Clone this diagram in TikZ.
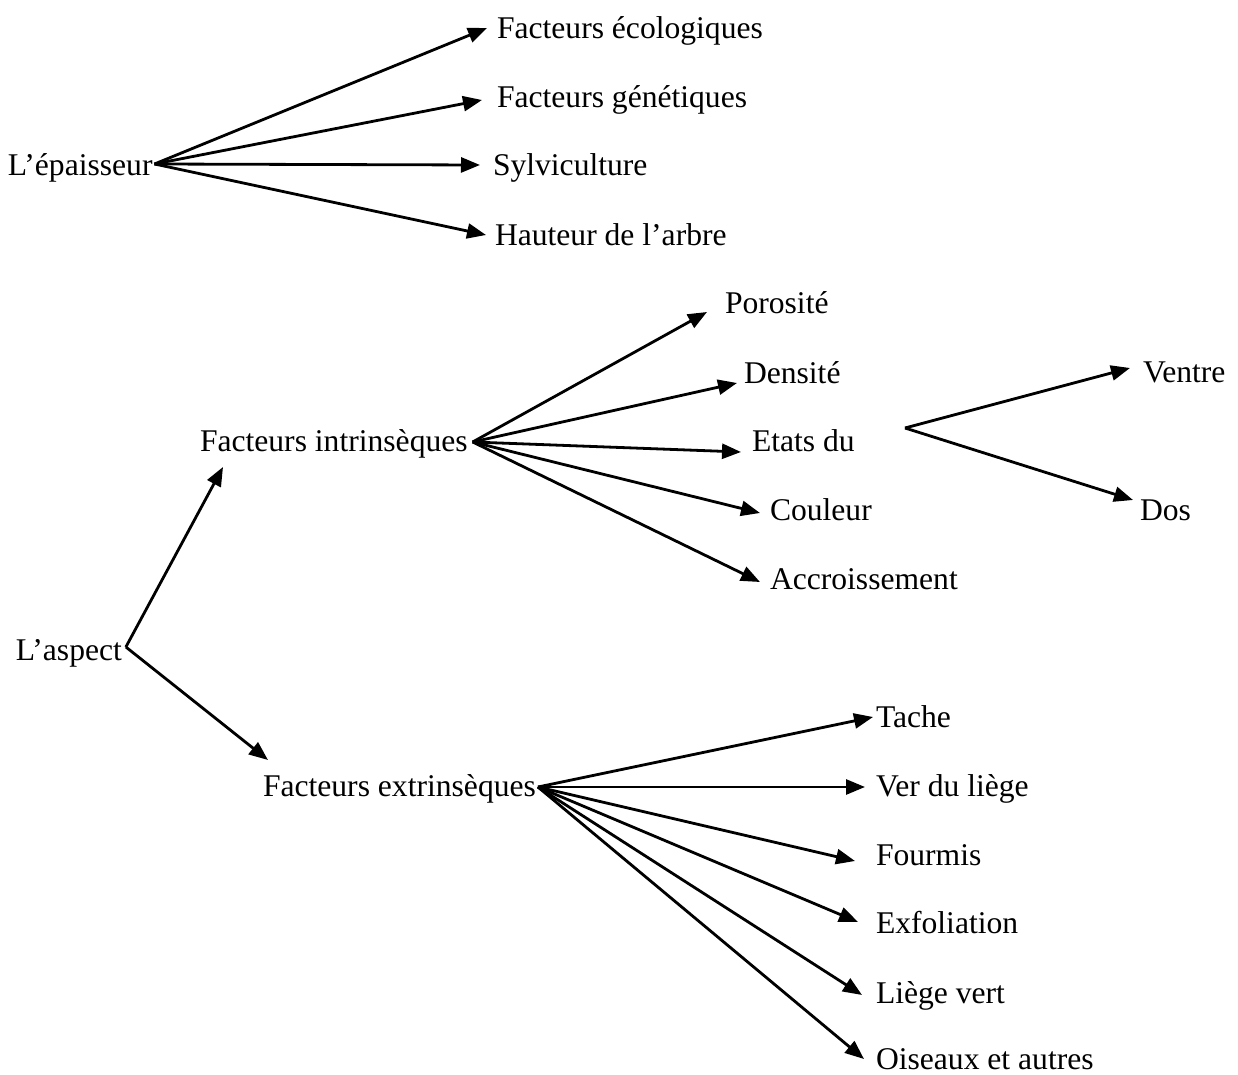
\documentclass[tikz,border=0pt]{standalone}
\usepackage{fontspec}
\setmainfont{Liberation Serif}
\usetikzlibrary{arrows.meta}
\begin{document}
\begin{tikzpicture}[x=0.5pt,y=-0.5pt,
  lbl/.style={anchor=west,inner sep=0pt,outer sep=0pt,font=\fontsize{15.8}{19}\selectfont,text height=12.5pt,text depth=2pt},
  arr/.style={line width=1.4pt,-{Triangle[length=9.5pt,width=7.5pt]}},
  ln/.style={line width=1.4pt}]
\useasboundingbox (0,0) rectangle (1238,1075);
% top tree
\node[lbl] (ep) at (8,165) {L’épaisseur};
\node[lbl] (eco) at (497,28) {Facteurs écologiques};
\node[lbl] (gen) at (497,97) {Facteurs génétiques};
\node[lbl] (syl) at (493,165) {Sylviculture};
\node[lbl] (hau) at (495,235) {Hauteur de l’arbre};
% aspect
\node[lbl] (asp) at (16,650) {L’aspect};
\node[lbl] (fi) at (200,441) {Facteurs intrinsèques};
\node[lbl] (por) at (725,303) {Porosité};
\node[lbl] (den) at (744,373) {Densité};
\node[lbl] (eta) at (752,441) {Etats du};
\node[lbl] (cou) at (770,510) {Couleur};
\node[lbl] (acc) at (770,579) {Accroissement};
\coordinate (vd) at (905,428);
\node[lbl] (ven) at (1143,372) {Ventre};
\node[lbl] (dos) at (1140,510) {Dos};
\node[lbl] (fe) at (263,786) {Facteurs extrinsèques};
\node[lbl] (tac) at (876,717) {Tache};
\node[lbl] (ver) at (876,786) {Ver du liège};
\node[lbl] (fou) at (876,855) {Fourmis};
\node[lbl] (exf) at (876,923) {Exfoliation};
\node[lbl] (lie) at (876,993) {Liège vert};
\node[lbl] (ois) at (876,1059) {Oiseaux et autres};
% arrows top
\draw[arr] ([shift={(2,-1)}]ep.east) -- ([shift={(-10,0)}]eco.west);
\draw[arr] ([shift={(2,-1)}]ep.east) -- ([shift={(-15,3)}]gen.west);
\draw[arr] ([shift={(2,-1)}]ep.east) -- ([shift={(-13,0)}]syl.west);
\draw[arr] ([shift={(2,-1)}]ep.east) -- ([shift={(-9,0)}]hau.west);
% aspect
\draw[arr] ([shift={(4,-3)}]asp.east) -- ([shift={(23,26)}]fi.west);
\draw[arr] ([shift={(4,-3)}]asp.east) -- ([shift={(5,-26)}]fe.west);
% intrinseques
\draw[arr] ([shift={(5,1)}]fi.east) -- ([shift={(-18,9)}]por.west);
\draw[arr] ([shift={(5,1)}]fi.east) -- ([shift={(-7,10)}]den.west);
\draw[arr] ([shift={(5,1)}]fi.east) -- ([shift={(-11,11)}]eta.west);
\draw[arr] ([shift={(5,1)}]fi.east) -- ([shift={(-10,3)}]cou.west);
\draw[arr] ([shift={(5,1)}]fi.east) -- ([shift={(-10,3)}]acc.west);
% ventre dos
\draw[arr] (vd) -- ([shift={(-13,-4)}]ven.west);
\draw[arr] (vd) -- ([shift={(-7,-10)}]dos.west);
% extrinseques
\draw[arr] ([shift={(2,1)}]fe.east) -- ([shift={(-3,0)}]tac.west);
\draw[arr] ([shift={(2,1)}]fe.east) -- ([shift={(-11,1)}]ver.west);
\draw[arr] ([shift={(2,1)}]fe.east) -- ([shift={(-21,6)}]fou.west);
\draw[arr] ([shift={(2,1)}]fe.east) -- ([shift={(-18,-1)}]exf.west);
\draw[arr] ([shift={(2,1)}]fe.east) -- ([shift={(-14,2)}]lie.west);
\draw[arr] ([shift={(2,1)}]fe.east) -- ([shift={(-12,0)}]ois.west);
\end{tikzpicture}
\end{document}
